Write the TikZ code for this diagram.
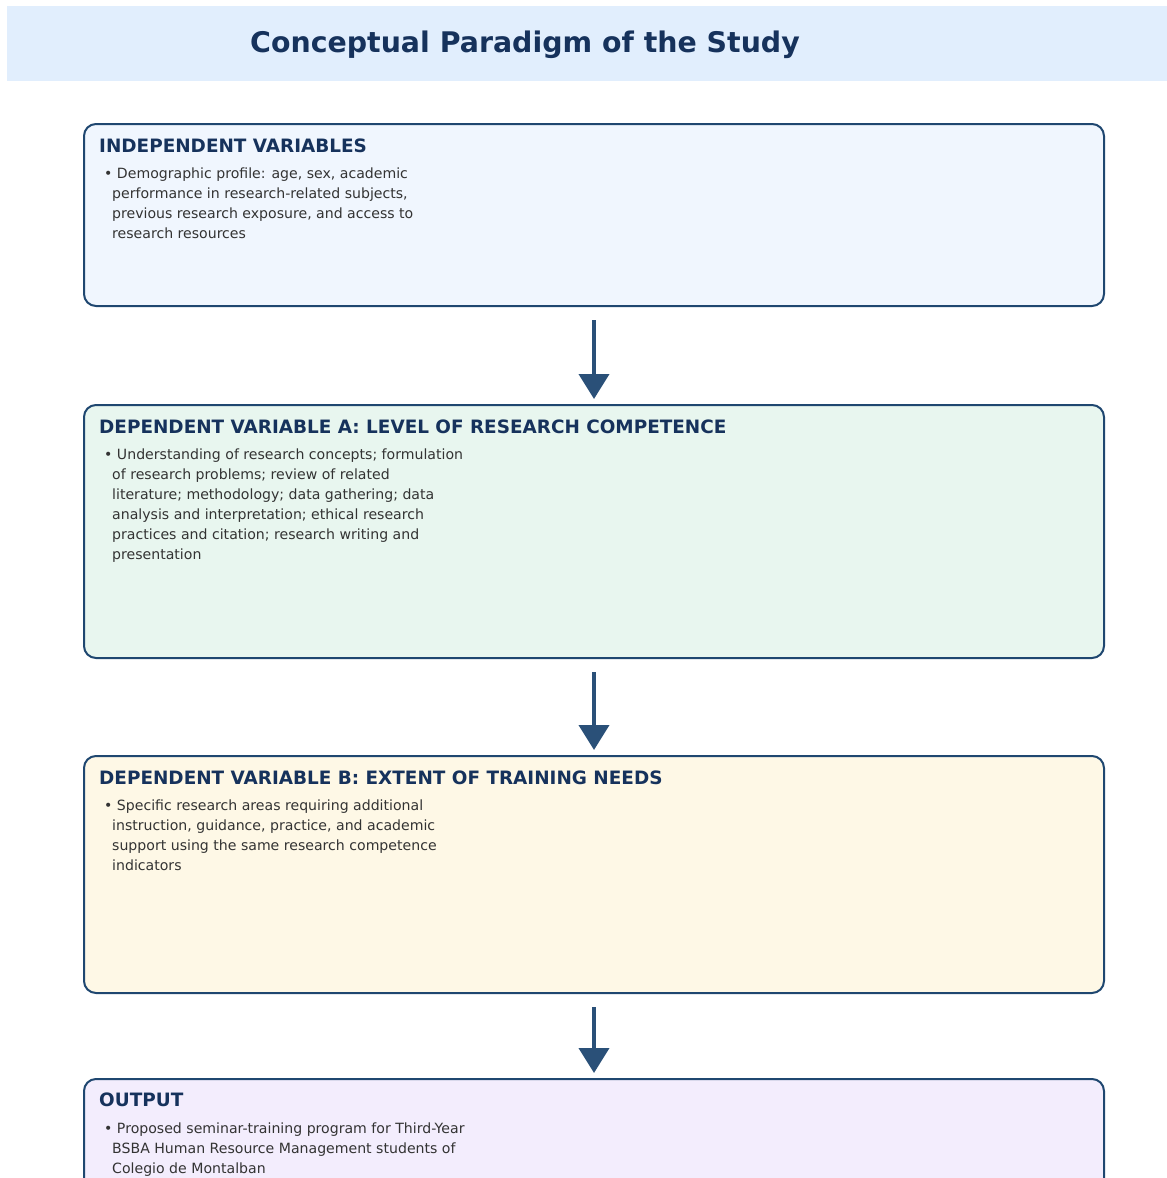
\documentclass[tikz,border=0pt]{standalone}
\usepackage{fontspec}
\setmainfont{DejaVu Sans}
\usetikzlibrary{arrows.meta}
\definecolor{titlebg}{HTML}{E1EEFD}
\definecolor{navy}{HTML}{16325C}
\definecolor{border}{HTML}{1F4770}
\definecolor{arrowc}{HTML}{2A5078}
\definecolor{bodyc}{HTML}{333333}
\definecolor{fillA}{HTML}{F0F6FE}
\definecolor{fillB}{HTML}{E8F6EF}
\definecolor{fillC}{HTML}{FEF8E6}
\definecolor{fillD}{HTML}{F3EDFD}
\tikzset{
  box/.style={draw=border, line width=2pt, rounded corners=12pt, rectangle, minimum width=1020pt, inner sep=0pt, anchor=north west},
  head/.style={anchor=north west, inner sep=0pt, text=navy, font=\fontsize{18.4pt}{20pt}\selectfont\bfseries},
  body/.style={anchor=north west, inner sep=0pt, text=bodyc, align=left, font=\fontsize{14.1pt}{20pt}\selectfont},
  arr/.style={draw=arrowc, line width=4pt, -{Triangle[width=30pt,length=25pt]}}
}
\begin{document}
\begin{tikzpicture}[x=1pt,y=-1pt]
\useasboundingbox (0,0) rectangle (1167,1178);
\clip (0,0) rectangle (1167,1178);
\fill[titlebg] (7,6) rectangle (1167,81);
\node[text=navy, font=\fontsize{28.4pt}{30pt}\selectfont\bfseries] (title) at (525,45) {Conceptual Paradigm of the Study};

\node[box, fill=fillA, minimum height=182pt] (b1) at (83,123) {};
\node[head] (h1) at (99,138.5) {INDEPENDENT VARIABLES};
\node[body] (t1) at (104,167.5) {• Demographic profile: age, sex, academic\\
\hspace*{8pt}performance in research-related subjects,\\
\hspace*{8pt}previous research exposure, and access to\\
\hspace*{8pt}research resources};

\node[box, fill=fillB, minimum height=253pt] (b2) at (83,404) {};
\node[head] (h2) at (99,419.5) {DEPENDENT VARIABLE A: LEVEL OF RESEARCH COMPETENCE};
\node[body] (t2) at (104,448.5) {• Understanding of research concepts; formulation\\
\hspace*{8pt}of research problems; review of related\\
\hspace*{8pt}literature; methodology; data gathering; data\\
\hspace*{8pt}analysis and interpretation; ethical research\\
\hspace*{8pt}practices and citation; research writing and\\
\hspace*{8pt}presentation};

\node[box, fill=fillC, minimum height=237pt] (b3) at (83,755) {};
\node[head] (h3) at (99,770.5) {DEPENDENT VARIABLE B: EXTENT OF TRAINING NEEDS};
\node[body] (t3) at (104,799.5) {• Specific research areas requiring additional\\
\hspace*{8pt}instruction, guidance, practice, and academic\\
\hspace*{8pt}support using the same research competence\\
\hspace*{8pt}indicators};

\node[box, fill=fillD, minimum height=200pt] (b4) at (83,1078) {};
\node[head] (h4) at (99,1092.5) {OUTPUT};
\node[body] (t4) at (104,1122.5) {• Proposed seminar-training program for Third-Year\\
\hspace*{8pt}BSBA Human Resource Management students of\\
\hspace*{8pt}Colegio de Montalban};

\draw[arr] ([yshift=-13pt]b1.south) -- ([yshift=5pt]b2.north);
\draw[arr] ([yshift=-13pt]b2.south) -- ([yshift=5pt]b3.north);
\draw[arr] ([yshift=-13pt]b3.south) -- ([yshift=5pt]b4.north);
\end{tikzpicture}
\end{document}
